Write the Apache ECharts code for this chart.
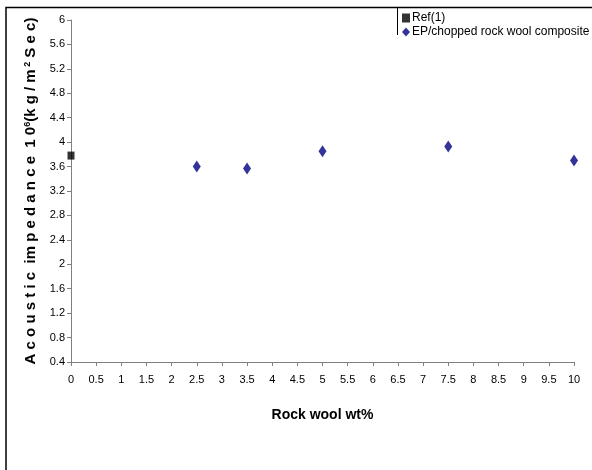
<!DOCTYPE html>
<html>
<head>
<meta charset="utf-8">
<script src="https://cdn.jsdelivr.net/npm/echarts@6/dist/echarts.min.js"></script>
<style>
  html, body { margin: 0; padding: 0; background: #fff; }
  #chart { width: 592px; height: 470px; }
</style>
</head>
<body>
<div id="chart"></div>
<script>
// values
const refX = [0];
const refY = [3.78];
const epX = [2.5, 3.5, 5, 7.5, 10];
const epY = [3.6, 3.57, 3.85, 3.93, 3.7];

const font = "'Liberation Sans', Arial, sans-serif";
const chart = echarts.init(document.getElementById("chart"), null, { renderer: "canvas" });

chart.setOption({
  animation: false,
  backgroundColor: "#fff",
  grid: { left: 71, right: 18, top: 20, bottom: 108 },
  legend: {
    orient: "vertical",
    left: 398,
    top: 8,
    padding: [4, 4, 4, 4],
    itemGap: 2,
    itemWidth: 8,
    itemHeight: 9,
    textStyle: { fontFamily: font, fontSize: 12, color: "#000", padding: [0, 0, 0, -3] },
    data: [
      { name: "Ref(1)", icon: "rect" },
      { name: "EP/chopped rock wool composite", icon: "diamond" },
    ],
  },
  xAxis: {
    type: "value",
    min: 0,
    max: 10,
    interval: 0.5,
    name: "Rock wool wt%",
    nameLocation: "middle",
    nameGap: 46,
    nameTextStyle: { fontFamily: font, fontSize: 14, fontWeight: "bold", color: "#000" },
    axisLine: { lineStyle: { color: "#808080", width: 1 } },
    axisTick: { show: true, length: 4, lineStyle: { color: "#808080" } },
    axisLabel: { fontFamily: font, fontSize: 11, color: "#000", margin: 12 },
    splitLine: { show: false },
  },
  yAxis: {
    type: "value",
    min: 0.4,
    max: 6,
    interval: 0.4,
    name: "{t|A c o u s t i c  im p e d a n c e  1 0}{s|6}{t|(k g / m}{s| 2}{t| S e c)}",
    nameLocation: "middle",
    nameRotate: 90,
    nameGap: 27,
    nameTextStyle: {
      rich: {
        t: { fontFamily: font, fontSize: 15, fontWeight: "bold", color: "#000" },
        s: { fontFamily: font, fontSize: 9, fontWeight: "bold", color: "#000", verticalAlign: "top", padding: [0, 0, 7, 0] },
      },
    },
    axisLine: { show: true, lineStyle: { color: "#808080", width: 1 } },
    axisTick: { show: true, length: 4, lineStyle: { color: "#808080" } },
    axisLabel: { fontFamily: font, fontSize: 11, color: "#000", margin: 6 },
    splitLine: { show: false },
  },
  series: [
    {
      name: "Ref(1)",
      type: "scatter",
      symbol: "rect",
      symbolSize: [7, 8],
      itemStyle: { color: "#000" },
      data: refX.map((x, i) => [x, refY[i]]),
    },
    {
      name: "EP/chopped rock wool composite",
      type: "scatter",
      symbol: "diamond",
      symbolSize: [8, 12],
      itemStyle: { color: "#000080" },
      data: epX.map((x, i) => [x, epY[i]]),
    },
  ],
  graphic: [
    {
      type: "rect",
      shape: { x: 6, y: 7.5, width: 600, height: 480 },
      style: { fill: "none", stroke: "#000", lineWidth: 1.5 },
      silent: true,
      z: 100,
    },
    {
      type: "line",
      shape: { x1: 397.5, y1: 8, x2: 397.5, y2: 35 },
      style: { stroke: "#000", lineWidth: 1 },
      silent: true,
      z: 100,
    },
  ],
});
</script>
</body>
</html>
